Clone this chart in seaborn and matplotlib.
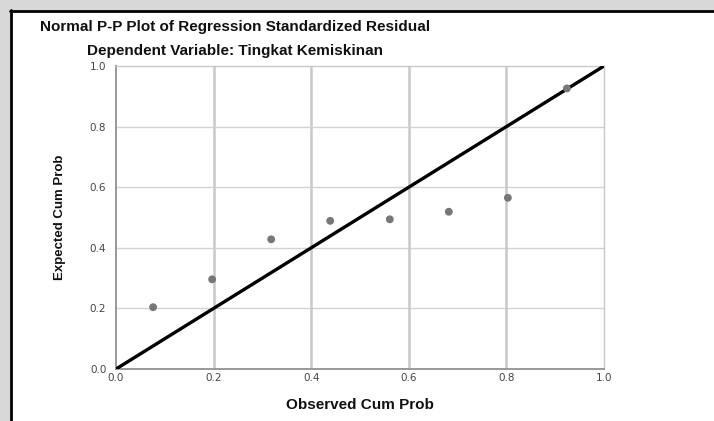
import matplotlib
matplotlib.use("Agg")
import matplotlib.pyplot as plt
import seaborn as sns
import pandas as pd
from matplotlib.patches import Rectangle
from matplotlib.lines import Line2D

observed = [0.076, 0.197, 0.318, 0.439, 0.561, 0.682, 0.803, 0.924]
expected = [0.204, 0.296, 0.428, 0.489, 0.494, 0.519, 0.565, 0.926]
ticks = [0.0, 0.2, 0.4, 0.6, 0.8, 1.0]
tick_labels = ["0.0", "0.2", "0.4", "0.6", "0.8", "1.0"]
title1 = "Normal P-P Plot of Regression Standardized Residual"
title2 = "Dependent Variable: Tingkat Kemiskinan"

sns.set_theme(style="white")
plt.rcParams["font.family"] = ["Liberation Sans", "DejaVu Sans"]

W, H = 714, 421
fig = plt.figure(figsize=(W / 100, H / 100), dpi=100)
fig.patch.set_facecolor("#d8d8d8")
# white panel with black border on left/top
fig.patches.append(Rectangle((11 / W, 0), 1, 1 - 11 / H, transform=fig.transFigure,
                             facecolor="white", edgecolor="none", zorder=-5))
fig.lines.append(Line2D([11 / W, 11 / W], [0, 1 - 10 / H], transform=fig.transFigure,
                        color="black", lw=2, zorder=-4))
fig.lines.append(Line2D([10 / W, 1], [1 - 11 / H, 1 - 11 / H], transform=fig.transFigure,
                        color="black", lw=2, zorder=-4))

x0, x1, y0, y1 = 116, 604, 66, 369
ax = fig.add_axes([x0 / W, 1 - y1 / H, (x1 - x0) / W, (y1 - y0) / H])
ax.set_zorder(2)
ax.set_facecolor("white")

df = pd.DataFrame({"Observed Cum Prob": observed, "Expected Cum Prob": expected})

# grid lines
for t in ticks[1:-1]:
    ax.axvline(t, color="#c8c8c8", lw=1.8, zorder=0)
    ax.axhline(t, color="#d2d2d2", lw=1.0, zorder=0)

sns.lineplot(x=[0, 1], y=[0, 1], ax=ax, color="black", lw=2.4, zorder=3)
sns.scatterplot(data=df, x="Observed Cum Prob", y="Expected Cum Prob", ax=ax,
                color="#777777", s=32, marker="o", edgecolor="none", zorder=4)

ax.set_xlim(0, 1)
ax.set_ylim(0, 1)
ax.set_xticks(ticks)
ax.set_yticks(ticks)
ax.set_xticklabels(tick_labels, family=["DejaVu Sans"])
ax.set_yticklabels(tick_labels, family=["DejaVu Sans"])
ax.tick_params(axis="both", length=0, labelsize=7.5, colors="#444444")
ax.tick_params(axis="y", pad=7)
ax.tick_params(axis="x", pad=3)
for s in ["top", "right"]:
    ax.spines[s].set_color("#c8c8c8")
    ax.spines[s].set_linewidth(1.0)
for s in ["left", "bottom"]:
    ax.spines[s].set_color("#999999")
    ax.spines[s].set_linewidth(1.4)

ax.set_xlabel("Observed Cum Prob", fontsize=11, fontweight="bold", color="#111111", labelpad=11)
ax.set_ylabel("Expected Cum Prob", fontsize=9.5, color="#111111", labelpad=17,
              family=["Liberation Sans Narrow", "Liberation Sans", "DejaVu Sans"], fontweight="bold")

fig.text(235 / W, 1 - 27 / H, title1, ha="center", va="center", fontsize=11,
         fontweight="bold", color="#111111")
fig.text(235 / W, 1 - 51 / H, title2, ha="center", va="center", fontsize=11,
         fontweight="bold", color="#111111")

fig.savefig("out.png", dpi=100, facecolor=fig.get_facecolor())
